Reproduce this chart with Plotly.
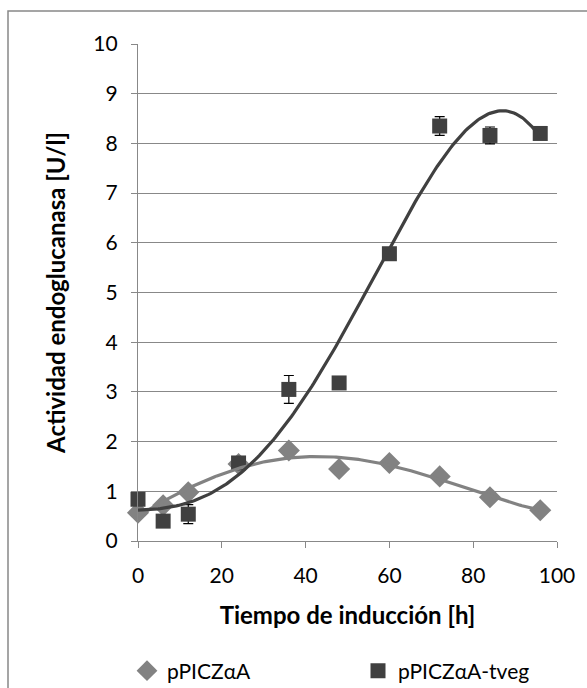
import numpy as np
import plotly.graph_objects as go

# Data
hours = [0, 6, 12, 24, 36, 48, 60, 72, 84, 96]
ppicz = [0.57, 0.72, 0.98, 1.55, 1.82, 1.45, 1.57, 1.30, 0.88, 0.62]
ppicz_err = [0.03, 0.03, 0.05, 0.05, 0.05, 0.05, 0.05, 0.05, 0.05, 0.03]
tveg = [0.84, 0.40, 0.54, 1.57, 3.05, 3.18, 5.78, 8.35, 8.16, 8.20]
tveg_err = [0.05, 0.05, 0.19, 0.06, 0.28, 0.05, 0.05, 0.19, 0.17, 0.05]
x_ticks = [0, 20, 40, 60, 80, 100]
y_ticks = list(range(0, 11))

LIGHT = "#828282"
DARK = "#404040"
GRID = "#888888"
FONT = "Lato"

# Polynomial (order 4) trendlines, as the spreadsheet does
xs = np.linspace(min(hours), max(hours), 200)
fit_light = np.polyval(np.polyfit(hours, ppicz, 4), xs)
fit_dark = np.polyval(np.polyfit(hours, tveg, 4), xs)

fig = go.Figure()
fig.add_trace(go.Scatter(x=hours, y=ppicz, mode="markers", name="pPICZαA", legend="legend",
                         cliponaxis=False,
                         marker=dict(symbol="diamond", size=17, color=LIGHT),
                         error_y=dict(type="data", array=ppicz_err, color="black", thickness=1.2, width=5)))
fig.add_trace(go.Scatter(x=hours, y=tveg, mode="markers", name="pPICZαA-tveg", legend="legend2",
                         cliponaxis=False,
                         marker=dict(symbol="square", size=15, color=DARK),
                         error_y=dict(type="data", array=tveg_err, color="black", thickness=1.2, width=5)))
fig.add_trace(go.Scatter(x=xs, y=fit_light, mode="lines",
                         line=dict(color=LIGHT, width=3.2), showlegend=False, hoverinfo="skip"))
fig.add_trace(go.Scatter(x=xs, y=fit_dark, mode="lines",
                         line=dict(color=DARK, width=3.2), showlegend=False, hoverinfo="skip"))

W, H = 587, 688
L, R, T, B = 138, 30, 44, 147
pw, ph = W - L - R, H - T - B

def px2paper_x(px):
    return (px - L) / pw

def px2paper_y(py):
    return (H - B - py) / ph

fig.add_shape(type="rect", xref="paper", yref="paper",
              x0=px2paper_x(8), x1=px2paper_x(620), y0=px2paper_y(720), y1=px2paper_y(11),
              line=dict(color=GRID, width=1.5), fillcolor="rgba(0,0,0,0)", layer="below")

legend_common = dict(orientation="h", xref="container", yref="container",
                     xanchor="left", yanchor="middle", y=1 - 671 / H,
                     font=dict(size=21), bgcolor="rgba(0,0,0,0)")

fig.update_layout(
    width=W, height=H,
    margin=dict(l=L, r=R, t=T, b=B, autoexpand=False),
    paper_bgcolor="white", plot_bgcolor="white",
    font=dict(family=FONT, color="black"),
    xaxis=dict(range=[0, 100], tickvals=x_ticks, showgrid=False, zeroline=False, automargin=False,
               showline=True, linecolor=GRID, linewidth=1.3,
               ticks="outside", ticklen=6, tickcolor=GRID, tickwidth=1.3,
               tickfont=dict(size=21), ticklabelstandoff=10,
               title=dict(text="<b>Tiempo de inducción [h]</b>", font=dict(size=24), standoff=20)),
    yaxis=dict(range=[0, 10], tickvals=y_ticks, showgrid=True, gridcolor=GRID, gridwidth=1.2,
               zeroline=False, showline=True, linecolor=GRID, linewidth=1.3, automargin=False,
               ticks="outside", ticklen=6, tickcolor=GRID, tickwidth=1.3,
               tickfont=dict(size=21), ticklabelstandoff=9,
               title=dict(text="<b>Actividad endoglucanasa [U/l]</b>", font=dict(size=24), standoff=20)),
    legend=dict(x=127 / W, **legend_common),
    legend2=dict(x=358 / W, **legend_common),
)

fig.write_html("out.html")
